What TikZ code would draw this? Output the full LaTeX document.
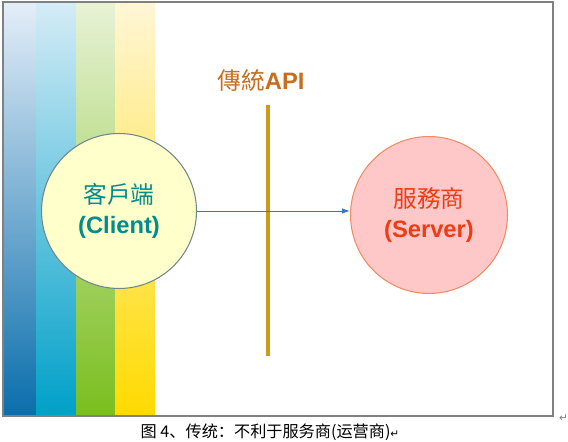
\documentclass[tikz,border=0pt]{standalone}
\usepackage{fontspec}
\setmainfont{Liberation Sans}
\newfontfamily\tcfont{Noto Sans CJK TC}
\newfontfamily\scfont{Noto Sans CJK SC}
\newfontfamily\symfont{DejaVu Sans}
\usepackage{xcolor}
\usetikzlibrary{positioning,arrows.meta,calc}

\definecolor{clientfill}{RGB}{255,255,204}
\definecolor{clientline}{RGB}{110,135,140}
\definecolor{clienttext}{RGB}{0,140,140}
\definecolor{serverfill}{RGB}{255,200,200}
\definecolor{serverline}{RGB}{240,140,100}
\definecolor{servertext}{RGB}{238,60,20}
\definecolor{apitext}{RGB}{200,110,30}
\definecolor{apiline}{RGB}{205,155,25}
\definecolor{callblue}{RGB}{50,120,210}
\definecolor{framegray}{RGB}{128,128,128}

\begin{document}
\begin{tikzpicture}[
    x=0.02cm, y=-0.02cm,
    >={Latex[length=1.6mm,width=1.1mm]},
    party/.style={circle, draw, line width=0.6pt, minimum size=3.1cm, inner sep=0pt, align=center, font=\bfseries\fontsize{13.5}{17.5}\selectfont},
    stripe/.style={draw=none}
]
\useasboundingbox (0,0) rectangle (568,442);
% coloured stripes on the left
\shade[stripe, top color={rgb,255:red,228;green,238;blue,248}, bottom color={rgb,255:red,10;green,110;blue,172}] (3,2) rectangle (36,415);
\shade[stripe, top color={rgb,255:red,212;green,236;blue,246}, bottom color={rgb,255:red,0;green,160;blue,200}] (36,2) rectangle (76,415);
\shade[stripe, top color={rgb,255:red,232;green,242;blue,214}, bottom color={rgb,255:red,122;green,190;blue,30}] (76,2) rectangle (115,415);
\shade[stripe, top color={rgb,255:red,255;green,246;blue,214}, bottom color={rgb,255:red,255;green,218;blue,0}] (115,2) rectangle (155,415);
\draw[framegray, line width=0.6pt] (3,2) rectangle (553,416);

% API wall
\node[font=\fontsize{13.5}{16}\selectfont, text=apitext] (api) at (261,80) {{\tcfont 傳統}\textbf{API}};
\coordinate (apitop) at (268,105);
\coordinate (apibot) at (268,356);
\draw[apiline, line width=2.2pt] (apitop) -- (apibot);

% the two parties
\node[party, fill=clientfill, draw=clientline, text=clienttext] (client) at (119,211) {{\tcfont\mdseries 客戶端}\\(Client)};
\node[party, fill=serverfill, draw=serverline, text=servertext, minimum size=3.14cm] (server) at (429,215) {{\tcfont\mdseries 服務商}\\(Server)};
\draw[->, callblue, line width=0.5pt] (client.east) -- (client.east -| server.west);

% caption
\node[font=\fontsize{9.2}{11}\selectfont] (caption) at (270,432) {{\scfont 图 4、传统：不利于服务商(运营商)}{\symfont\fontsize{6}{7}\selectfont ↵}};
\node[font=\fontsize{6}{7}\selectfont, text=framegray, anchor=west] (mark) at (553,418) {\symfont ↵};
\end{tikzpicture}
\end{document}
